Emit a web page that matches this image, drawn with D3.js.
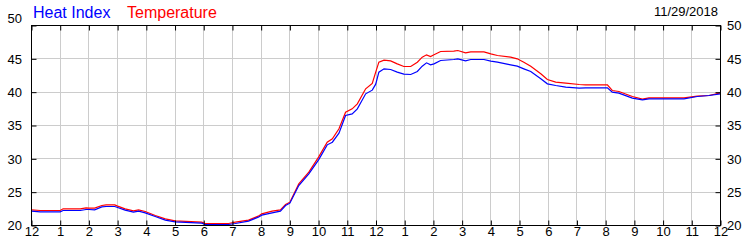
<html>
<head>
<script src="https://d3js.org/d3.v7.min.js"></script>
<style>
  body { margin: 0; background: #fff; }
  svg { display: block; font-family: "Liberation Sans", Arial, sans-serif; }
</style>
</head>
<body>
<svg width="750" height="250"></svg>
<script>
// hours since midnight, 11/29/2018
var hours = [0, 0.3, 1.0, 1.1, 1.7, 1.9, 2.0, 2.2, 2.45, 2.6, 2.9, 3.0, 3.26, 3.55, 3.73, 3.96,
  4.31, 4.66, 5.0, 5.93, 6.05, 6.87, 7.1, 7.56, 7.9, 8.02, 8.38, 8.67, 8.85, 9.0, 9.31, 9.66,
  10.0, 10.3, 10.48, 10.71, 10.94, 11.17, 11.35, 11.64, 11.87, 11.99, 12.1, 12.28, 12.51, 12.74,
  12.97, 13.21, 13.44, 13.61, 13.76, 13.9, 14.02, 14.25, 14.71, 14.85, 15.12, 15.3, 15.76, 16.0,
  16.23, 16.69, 16.92, 17.15, 17.39, 17.74, 17.97, 18.26, 18.61, 19.08, 19.3, 20.06, 20.23, 20.46,
  20.93, 21.28, 21.51, 21.98, 22.73, 23.19, 23.6, 24];

var temperature = [22.35, 22.25, 22.25, 22.5, 22.5, 22.65, 22.6, 22.6, 23.0, 23.1, 23.1, 22.9, 22.5, 22.2, 22.35, 22.1,
  21.5, 21.0, 20.7, 20.5, 20.3, 20.3, 20.5, 20.8, 21.4, 21.75, 22.15, 22.35, 23.15, 23.5, 26.25, 28.0,
  30.25, 32.5, 33.0, 34.5, 37.0, 37.5, 38.25, 40.5, 41.3, 43.0, 44.5, 44.8, 44.7, 44.25,
  43.85, 43.85, 44.5, 45.25, 45.6, 45.35, 45.6, 46.1, 46.15, 46.25, 45.9, 46.05, 46.05, 45.75,
  45.5, 45.25, 45.0, 44.5, 43.9, 42.75, 41.9, 41.5, 41.35, 41.15, 41.1, 41.1, 40.25, 40.1,
  39.35, 38.95, 39.15, 39.15, 39.15, 39.4, 39.5, 39.9];

var heatIndex = [22.15, 22.05, 22.05, 22.25, 22.25, 22.4, 22.4, 22.35, 22.8, 22.85, 22.85, 22.7, 22.3, 22.0, 22.15, 21.9,
  21.35, 20.8, 20.55, 20.35, 20.15, 20.15, 20.3, 20.65, 21.25, 21.55, 21.9, 22.15, 23.0, 23.35, 26.0, 27.75,
  29.85, 32.1, 32.5, 33.85, 36.5, 36.75, 37.5, 39.75, 40.3, 41.2, 43.0, 43.5, 43.4, 43.0,
  42.7, 42.65, 43.1, 43.9, 44.4, 44.1, 44.25, 44.75, 44.9, 45.0, 44.7, 44.9, 44.9, 44.65,
  44.5, 44.1, 43.9, 43.5, 43.1, 42.0, 41.25, 41.0, 40.75, 40.6, 40.65, 40.65, 40.0, 39.85,
  39.1, 38.85, 39.0, 39.0, 39.0, 39.35, 39.5, 39.75];

var hourLabels = ["12","1","2","3","4","5","6","7","8","9","10","11",
  "12","1","2","3","4","5","6","7","8","9","10","11","12"];
var yTicks = [20, 25, 30, 35, 40, 45, 50];
var dateLabel = "11/29/2018";

(function() {
var svg = d3.select("svg");
var pL = 31.5, pR = 720.5, pT = 25.5, pB = 225.5;

var x = d3.scaleLinear().domain([0, 24]).range([pL, pR]);
var y = d3.scaleLinear().domain([20, 50]).range([pB, pT]);
function snap(v) { return Math.round(v - 0.5) + 0.5; }

// grid
var grid = svg.append("g").attr("stroke", "#cccccc").attr("stroke-width", 1);
grid.selectAll(".vx").data(d3.range(1, 24)).enter().append("line")
  .attr("x1", function(d){ return snap(x(d)); })
  .attr("x2", function(d){ return snap(x(d)); })
  .attr("y1", pT).attr("y2", pB);
grid.selectAll(".hy").data(yTicks.slice(1, -1)).enter().append("line")
  .attr("y1", function(d){ return snap(y(d)); })
  .attr("y2", function(d){ return snap(y(d)); })
  .attr("x1", pL).attr("x2", pR);

// series
var pts = hours.map(function(h, i){ return {h: h, t: temperature[i], hi: heatIndex[i]}; });

var tLine = d3.line().x(function(d){ return x(d.h); }).y(function(d){ return y(d.t); });
var hLine = d3.line().x(function(d){ return x(d.h); }).y(function(d){ return y(d.hi); });

svg.append("path").datum(pts).attr("d", tLine)
  .attr("fill", "none").attr("stroke", "#ff0000").attr("stroke-width", 1.2);
svg.append("path").datum(pts).attr("d", hLine)
  .attr("fill", "none").attr("stroke", "#0000ff").attr("stroke-width", 1.2);

// frame
svg.append("rect").attr("x", pL).attr("y", pT)
  .attr("width", pR - pL).attr("height", pB - pT)
  .attr("fill", "none").attr("stroke", "#000");

// axes (ticks point inward)
function style(g) {
  g.select(".domain").remove();
  g.selectAll("text").attr("font-size", 13).attr("fill", "#000")
    .attr("font-family", "'Liberation Sans', Arial, sans-serif");
  g.selectAll("line").attr("stroke", "#000");
}

svg.append("g").attr("transform", "translate(0," + pB + ")")
  .call(d3.axisBottom(x).tickValues(d3.range(0, 25))
    .tickFormat(function(i){ return hourLabels[i]; })
    .tickSizeInner(-5).tickSizeOuter(0).tickPadding(1))
  .call(style);

svg.append("g").attr("transform", "translate(0," + pT + ")")
  .call(d3.axisTop(x).tickValues(d3.range(0, 25)).tickFormat("")
    .tickSizeInner(-5).tickSizeOuter(0))
  .call(style);

var yl = svg.append("g").attr("transform", "translate(" + pL + ",0)")
  .call(d3.axisLeft(y).tickValues(yTicks).tickFormat(d3.format("d"))
    .tickSizeInner(-5).tickSizeOuter(0).tickPadding(9.5))
  .call(style);
yl.selectAll("text").filter(function(d){ return d === 50; }).attr("dy", "-0.25em");

svg.append("g").attr("transform", "translate(" + pR + ",0)")
  .call(d3.axisRight(y).tickValues(yTicks).tickFormat(d3.format("d"))
    .tickSizeInner(-5).tickSizeOuter(0).tickPadding(6.5))
  .call(style);

// legend & date
svg.append("text").attr("x", 33).attr("y", 18)
  .attr("font-size", 16).attr("fill", "#0000ff").text("Heat Index");
svg.append("text").attr("x", 127).attr("y", 18)
  .attr("font-size", 16).attr("fill", "#ff0000").text("Temperature");
svg.append("text").attr("x", 718).attr("y", 16).attr("text-anchor", "end")
  .attr("font-size", 13).attr("fill", "#000").text(dateLabel);
})();
</script>
</body>
</html>
